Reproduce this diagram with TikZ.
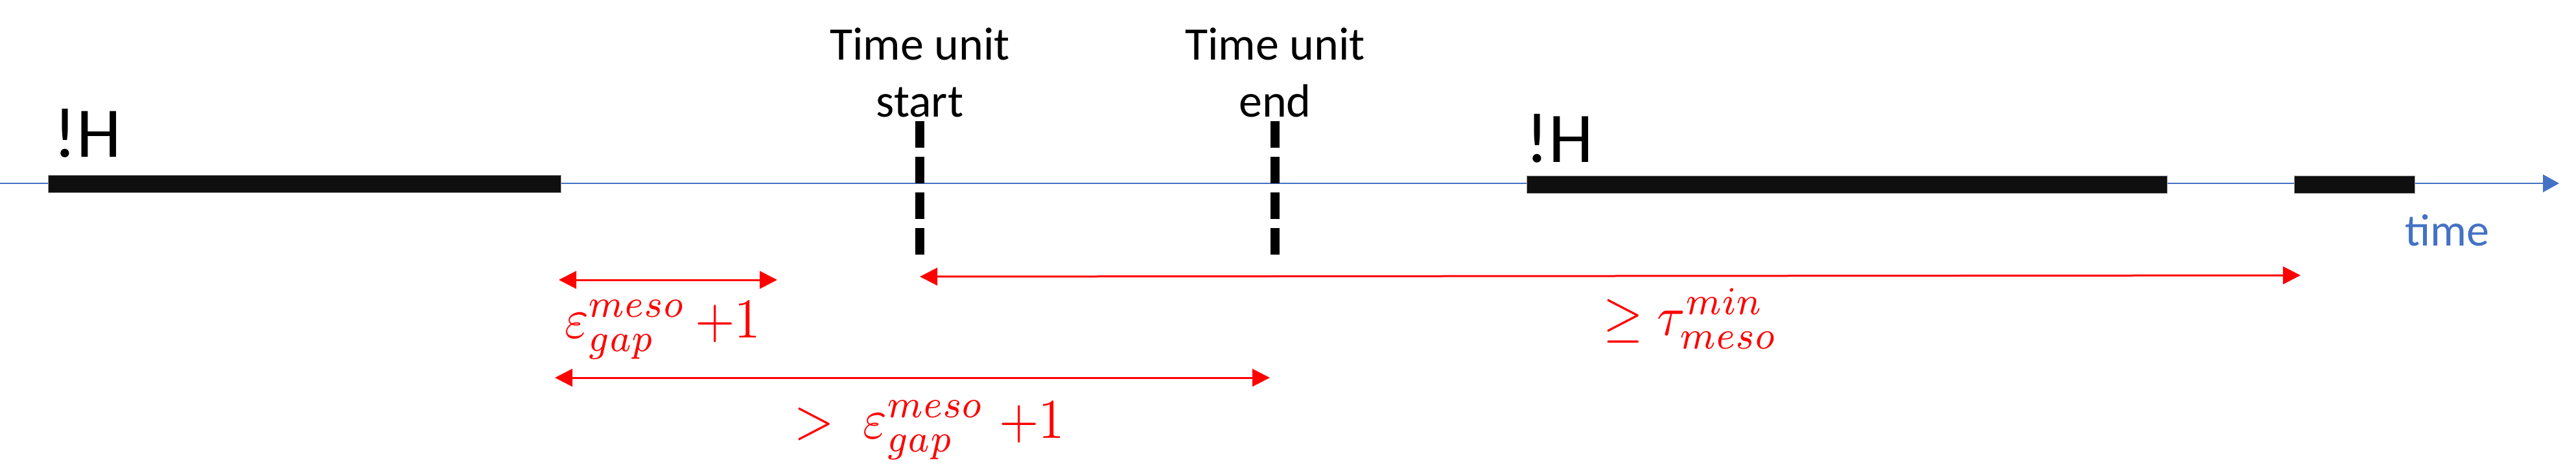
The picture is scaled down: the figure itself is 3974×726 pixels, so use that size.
\documentclass[tikz,border=0pt]{standalone}
\usepackage{fontspec}
\newfontfamily\calibri{Carlito}
\usetikzlibrary{arrows.meta}
\definecolor{axisblue}{HTML}{4472C4}
\definecolor{barblack}{HTML}{0F0F0F}
\newcommand{\bigmath}[1]{\scalebox{7.9}[8.7]{$#1$}}
\begin{document}
\begin{tikzpicture}[x=1pt,y=-1pt,
  bar/.style={fill=barblack, draw=gray!70, line width=1pt},
  tickline/.style={line width=14pt, dash pattern=on 41pt off 14pt},
  dimarrow/.style={red, line width=3pt, {Triangle[length=27pt,width=27pt]}-{Triangle[length=27pt,width=27pt]}},
  lbl/.style={font=\calibri\fontsize{72}{88}\selectfont, inner sep=0pt, align=center},
  hlbl/.style={font=\calibri\fontsize{110}{130}\selectfont, inner sep=0pt, anchor=base},
  mathlbl/.style={text=red, inner sep=0pt, anchor=base}]
\useasboundingbox (0,0) rectangle (3974,726);
% axis
\coordinate (axL) at (0,283);
\coordinate (axR) at (3948,283);
\draw[axisblue, line width=2.5pt, -{Triangle[length=25pt,width=27pt]}] (axL) -- (axR);
\node[font=\calibri\fontsize{70}{84}\selectfont, text=axisblue, inner sep=0pt, anchor=base] (time) at (3775,379) {time};
% bars
\draw[bar] (74,270) rectangle (865,297);
\draw[bar] (2355,271) rectangle (3343,298);
\draw[bar] (3539,271) rectangle (3725,298);
\node[hlbl] (h1) at (135,242) {!H};
\node[hlbl] (h2) at (2406,250) {!H};
% time unit markers
\coordinate (sT) at (1419,187);
\coordinate (sB) at (1419,393);
\coordinate (eT) at (1967,187);
\coordinate (eB) at (1967,393);
\draw[tickline] (sT) -- (sB);
\draw[tickline] (eT) -- (eB);
\node[lbl, anchor=base] (tus) at (1419,180) {Time unit\\start};
\node[lbl, anchor=base] (tue) at (1967,180) {Time unit\\end};
% dimension arrows
\coordinate (a1L) at (862,432);
\coordinate (a1R) at (1199,432);
\coordinate (a2L) at (856,583);
\coordinate (a2R) at (1959,583);
\coordinate (a3L) at (1419,427);
\coordinate (a3R) at (3549,425);
\draw[dimarrow] (a1L) -- (a1R);
\draw[dimarrow] (a2L) -- (a2R);
\draw[dimarrow] (a3L) -- (a3R);
\node[mathlbl] (m1) at (1022,521) {\bigmath{\varepsilon_{gap}^{meso}\,{+}1}};
\node[mathlbl] (m2) at (1434,676) {\bigmath{>\;\varepsilon_{gap}^{meso}\;{+}1}};
\node[mathlbl] (m3) at (2608,517) {\bigmath{\geq\tau_{meso}^{min}}};
\end{tikzpicture}
\end{document}
